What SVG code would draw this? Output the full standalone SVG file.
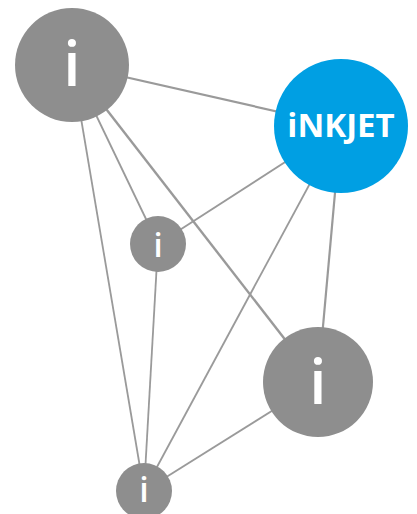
<svg xmlns="http://www.w3.org/2000/svg" width="417" height="514" viewBox="0 0 417 514">
<style>
.e{stroke:#9a9a9a;stroke-width:1.8;fill:none}
.n{fill:#8e8e8e}
.b{fill:#009fe3}
.t{fill:#fff;font-family:"Open Sans","Noto Sans",sans-serif;font-weight:600;text-anchor:middle}
.k{font-weight:bold}
</style>
<rect width="417" height="514" fill="#fff"/>
<g id="connectors">
<line class="e" x1="72" y1="65" x2="341" y2="126" style="stroke-width:2.2"/>
<line class="e" x1="72" y1="65" x2="158" y2="244"/>
<line class="e" x1="72" y1="65" x2="318" y2="382" style="stroke-width:2.4"/>
<line class="e" x1="72" y1="65" x2="144" y2="491"/>
<line class="e" x1="341" y1="126" x2="158" y2="244"/>
<line class="e" x1="341" y1="126" x2="144" y2="491"/>
<line class="e" x1="341" y1="126" x2="318" y2="382" style="stroke-width:2.2"/>
<line class="e" x1="158" y1="244" x2="144" y2="491"/>
<line class="e" x1="318" y1="382" x2="144" y2="491"/>
</g>
<g id="nodeA"><circle class="n" cx="72" cy="65" r="57"/><text class="t" x="72" y="86" font-size="62">i</text></g>
<g id="nodeB"><circle class="b" cx="341" cy="126" r="67"/><text class="t k" x="341" y="137" font-size="33">iNKJET</text></g>
<g id="nodeC"><circle class="n" cx="158" cy="244" r="28"/><text class="t" x="158" y="257" font-size="33">i</text></g>
<g id="nodeD"><circle class="n" cx="318" cy="382" r="55"/><text class="t" x="318" y="404" font-size="62">i</text></g>
<g id="nodeE"><circle class="n" cx="144" cy="491" r="28"/><text class="t" x="144" y="502" font-size="34">i</text></g>
</svg>
